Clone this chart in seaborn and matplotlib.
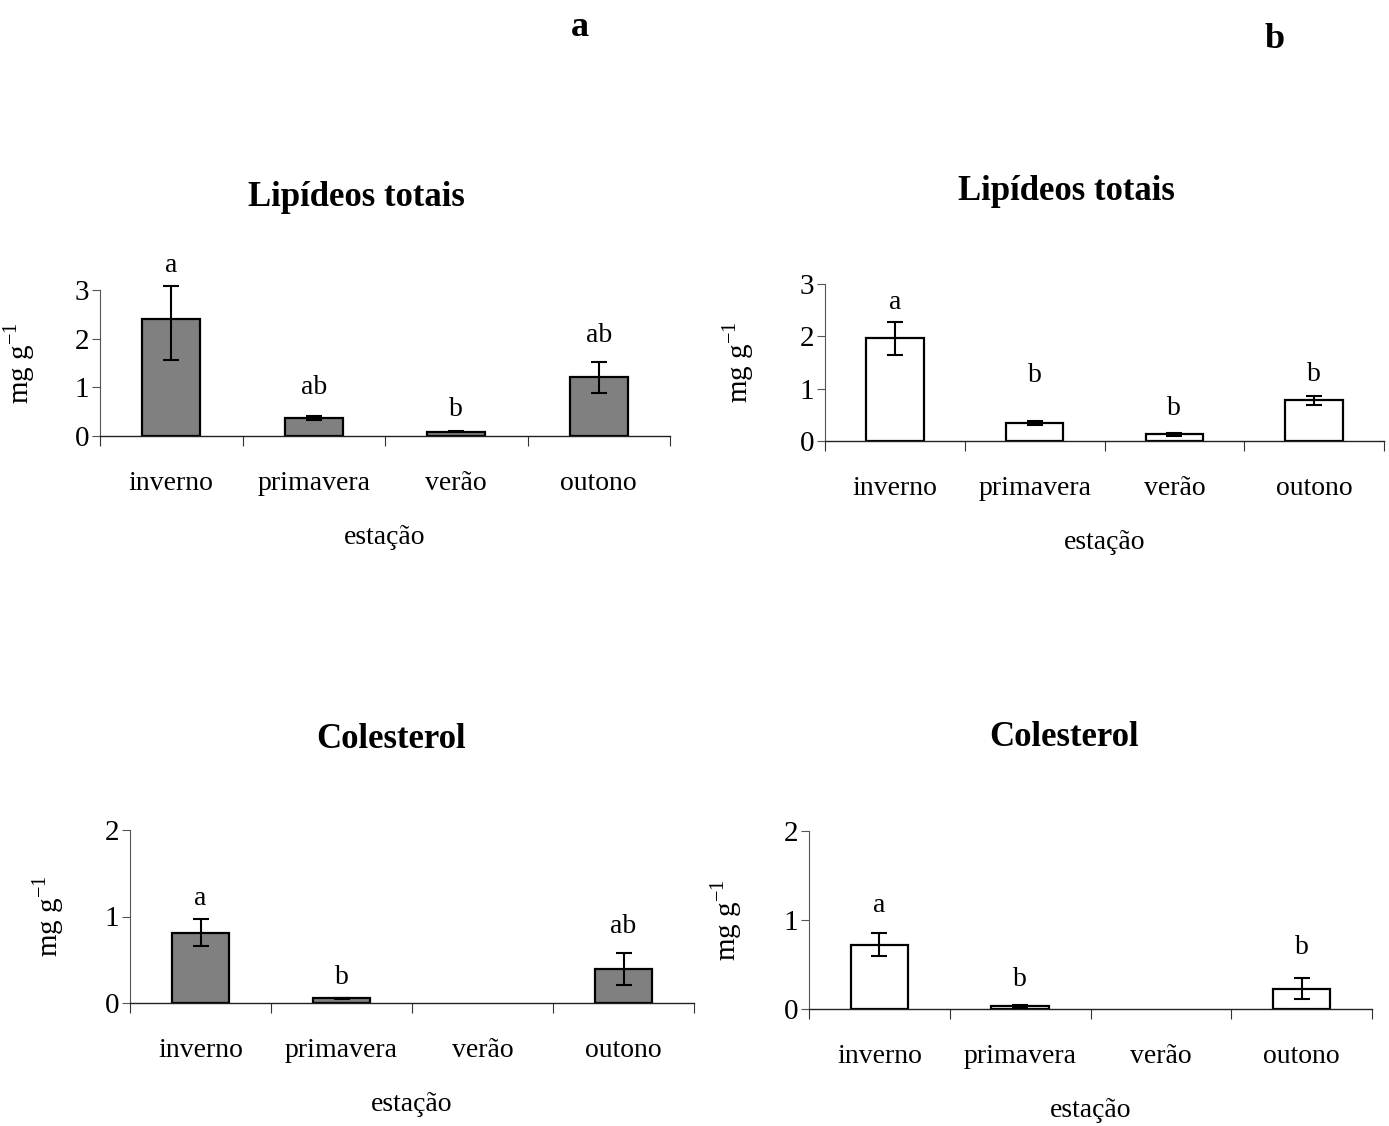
import numpy as np
import pandas as pd
import seaborn as sns
import matplotlib.pyplot as plt

# ---- dados ----
estacoes = ['inverno', 'primavera', 'verão', 'outono']

# a) Lipídeos totais
lip_a = [2.40, 0.37, 0.09, 1.21]
lip_a_lo = [0.83, 0.04, 0.01, 0.33]
lip_a_hi = [0.69, 0.04, 0.01, 0.32]
lip_a_let = ['a', 'ab', 'b', 'ab']

# b) Lipídeos totais
lip_b = [1.96, 0.35, 0.13, 0.78]
lip_b_lo = [0.31, 0.04, 0.03, 0.085]
lip_b_hi = [0.31, 0.04, 0.03, 0.085]
lip_b_let = ['a', 'b', 'b', 'b']

# a) Colesterol (verão sem dado)
col_a = [0.815, 0.054, np.nan, 0.39]
col_a_lo = [0.16, 0.005, np.nan, 0.185]
col_a_hi = [0.16, 0.005, np.nan, 0.185]
col_a_let = ['a', 'b', '', 'ab']

# b) Colesterol
col_b = [0.72, 0.03, np.nan, 0.23]
col_b_lo = [0.13, 0.02, np.nan, 0.115]
col_b_hi = [0.13, 0.02, np.nan, 0.115]
col_b_let = ['a', 'b', '', 'b']

# ---- estilo ----
sns.set_style("ticks")
plt.rcParams['font.family'] = ['Liberation Serif', 'DejaVu Serif']
plt.rcParams['mathtext.fontset'] = 'custom'
plt.rcParams['mathtext.rm'] = 'Liberation Serif'
for k in ['text.color', 'axes.labelcolor', 'xtick.color', 'ytick.color']:
    plt.rcParams[k] = 'black'

W, H = 1389, 1126
fig = plt.figure(figsize=(W / 100, H / 100), dpi=100)

def px_axes(x0, x1, y_top, y_bot):
    return fig.add_axes([x0 / W, 1 - y_bot / H, (x1 - x0) / W, (y_bot - y_top) / H])

paineis = [
    # (caixa em pixels, dados, cor, ymax, titulo, pos titulo, ylabel x, offsets letras)
    ((100, 670, 290, 436), lip_a, lip_a_lo, lip_a_hi, lip_a_let, '#808080', 3,
     'Lipídeos totais', (356, 197), -0.11, [20, 29, 22, 26]),
    ((825, 1384, 284, 441), lip_b, lip_b_lo, lip_b_hi, lip_b_let, 'white', 3,
     'Lipídeos totais', (1066, 192), -0.124, [20, 45, 24, 21]),
    ((130, 694, 830, 1003), col_a, col_a_lo, col_a_hi, col_a_let, '#808080', 2,
     'Colesterol', (391, 740), -0.114, [20, 20, 0, 27]),
    ((809, 1372, 831, 1009), col_b, col_b_lo, col_b_hi, col_b_let, 'white', 2,
     'Colesterol', (1064, 738), -0.116, [28, 25, 0, 31]),
]

for box, vals, lo, hi, letras, cor, ymax, titulo, tpos, ylx, offs in paineis:
    ax = px_axes(*box)
    df = pd.DataFrame({'estacao': estacoes, 'valor': vals})
    sns.barplot(data=df, x='estacao', y='valor', order=estacoes, color=cor,
                width=0.41, edgecolor='black', linewidth=1.6, saturation=1,
                errorbar=None, ax=ax)
    for p in ax.patches:
        p.set_facecolor(cor)
    xs = np.arange(len(estacoes))
    vals_arr = np.array(vals, dtype=float)
    eb = ax.errorbar(xs, vals_arr, yerr=[lo, hi], fmt='none', ecolor='black',
                     elinewidth=1.5, capsize=5.5, capthick=1.5, zorder=5)
    for art in eb.lines[1] + eb.lines[2]:
        art.set_clip_on(False)
    for x, v, l, h, let, off in zip(xs, vals_arr, lo, hi, letras, offs):
        if not let:
            continue
        ax.annotate(let, xy=(x, v + h), xytext=(0, off * 0.72),
                    textcoords='offset points', ha='center', va='center',
                    fontsize=20, annotation_clip=False)

    ax.set_xlim(-0.5, 3.5)
    ax.set_ylim(0, ymax)
    ax.set_yticks(range(ymax + 1))
    ax.set_xticks(xs)
    ax.set_xticklabels(estacoes)
    ax.set_xticks(np.arange(-0.5, 4, 1), minor=True)
    ax.tick_params(axis='x', which='major', length=0, pad=25, labelsize=20)
    ax.tick_params(axis='x', which='minor', length=7, width=0.8, direction='out',
                   color='#333333')
    ax.tick_params(axis='y', length=6, width=0.8, pad=2, labelsize=21,
                   color='#555555')
    ax.set_xlabel('estação', fontsize=20, labelpad=21)
    ax.set_ylabel(r'mg g$^{\mathrm{-1}}$', fontsize=21)
    ax.yaxis.set_label_coords(ylx, 0.5)
    for s in ['top', 'right']:
        ax.spines[s].set_visible(False)
    ax.spines['left'].set_color('#555555')
    ax.spines['left'].set_linewidth(0.8)
    ax.spines['bottom'].set_linewidth(1.0)
    ax.spines['bottom'].set_color('#222222')

    fig.text(tpos[0] / W, 1 - tpos[1] / H, titulo, ha='center', va='center',
             fontsize=25, fontweight='bold')

fig.text(580 / W, 1 - 27 / H, 'a', ha='center', va='center', fontsize=26,
         fontweight='bold')
fig.text(1275 / W, 1 - 40 / H, 'b', ha='center', va='center', fontsize=26,
         fontweight='bold')

fig.savefig('out.png', dpi=100)
